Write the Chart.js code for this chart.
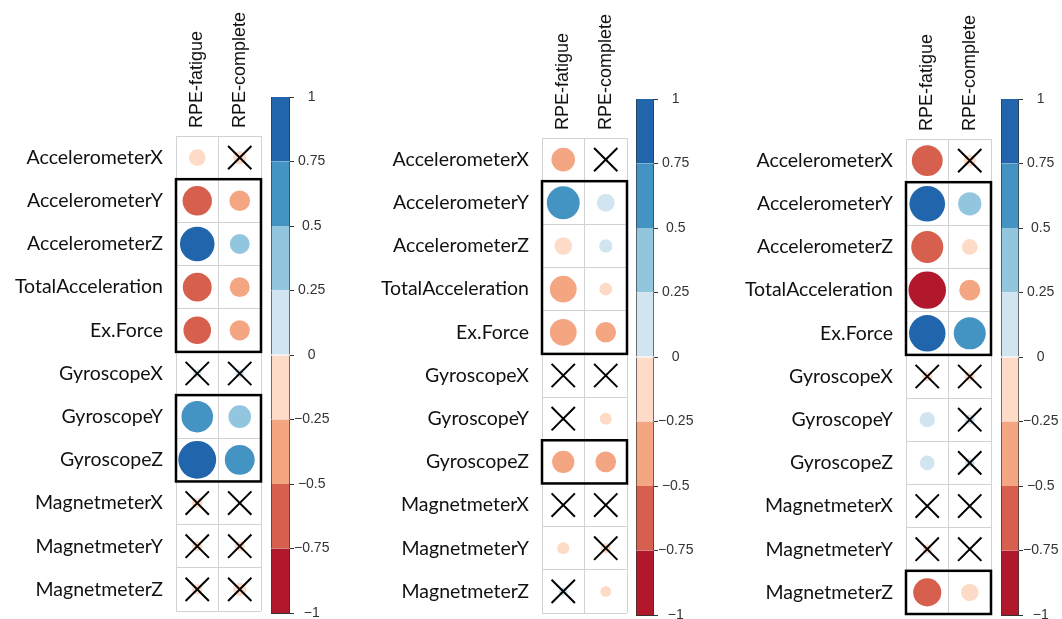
<!DOCTYPE html>
<html>
<head>
<meta charset="utf-8">
<script src="https://cdn.jsdelivr.net/npm/chart.js@4.4.1/dist/chart.umd.min.js"></script>
<style>
  html, body { margin: 0; padding: 0; background: #fff; overflow: hidden; }
  body { width: 1062px; height: 619px; position: relative; }
  canvas { position: absolute; top: 0; }
</style>
</head>
<body>
<canvas id="grid1"></canvas><canvas id="bar1"></canvas>
<canvas id="grid2"></canvas><canvas id="bar2"></canvas>
<canvas id="grid3"></canvas><canvas id="bar3"></canvas>
<script>
'use strict';

// ---- data ----
const rows = ['AccelerometerX', 'AccelerometerY', 'AccelerometerZ', 'TotalAcceleration', 'Ex.Force',
              'GyroscopeX', 'GyroscopeY', 'GyroscopeZ', 'MagnetmeterX', 'MagnetmeterY', 'MagnetmeterZ'];
const cols = ['RPE-fatigue', 'RPE-complete'];

const p1Fatigue  = [-0.19, -0.59, 0.82, -0.57, -0.52, 0.05, 0.68, 0.98, -0.08, -0.07, -0.07];
const p1Complete = [-0.12, -0.29, 0.27, -0.27, -0.28, 0.05, 0.35, 0.61, -0.01, -0.07, -0.12];
const p1InsigF   = [0, 0, 0, 0, 0, 1, 0, 0, 1, 1, 1];
const p1InsigC   = [1, 0, 0, 0, 0, 1, 0, 0, 1, 1, 1];
const p1Boxes    = [[1, 4], [6, 7]];

const p2Fatigue  = [-0.38, 0.74, -0.21, -0.49, -0.49, 0.01, -0.01, -0.34, 0.01, -0.1, 0.05];
const p2Complete = [-0.01, 0.22, 0.12, -0.11, -0.29, 0.01, -0.1, -0.29, -0.01, -0.07, -0.08];
const p2InsigF   = [0, 0, 0, 0, 0, 1, 1, 0, 1, 0, 1];
const p2InsigC   = [1, 0, 0, 0, 0, 1, 0, 0, 1, 1, 0];
const p2Boxes    = [[1, 4], [7, 7]];

const p3Fatigue  = [-0.65, 0.87, -0.7, -0.96, 0.91, -0.07, 0.16, 0.15, 0.01, -0.06, -0.54];
const p3Complete = [-0.1, 0.37, -0.17, -0.3, 0.7, -0.07, 0.07, 0.06, -0.01, 0.01, -0.21];
const p3InsigF   = [0, 0, 0, 0, 0, 1, 0, 0, 1, 1, 0];
const p3InsigC   = [1, 0, 0, 0, 0, 1, 1, 1, 1, 1, 0];
const p3Boxes    = [[1, 4], [10, 10]];

// colour legend: bin edges (bottom to top) and tick labels
const binEdges   = [-1, -0.75, -0.5, -0.25, 0, 0.25, 0.5, 0.75, 1];
const binColours = ['#B2182B', '#D6604D', '#F4A582', '#FDDBC7', '#D1E5F0', '#92C5DE', '#4393C3', '#2166AC'];
const barTicks   = [-1, -0.75, -0.5, -0.25, 0, 0.25, 0.5, 0.75, 1];

// ---- layout (pixels) ----
const panels = [
    { grid: 'grid1', bar: 'bar1', gl: 176, gr: 261, gt: 136, gb: 611, bl: 271, br: 290, bt: 97, bb: 613,
      f: p1Fatigue, c: p1Complete, iF: p1InsigF, iC: p1InsigC, boxes: p1Boxes },
    { grid: 'grid2', bar: 'bar2', gl: 542, gr: 627, gt: 138, gb: 613, bl: 636, br: 654, bt: 99, bb: 615,
      f: p2Fatigue, c: p2Complete, iF: p2InsigF, iC: p2InsigC, boxes: p2Boxes },
    { grid: 'grid3', bar: 'bar3', gl: 906, gr: 991, gt: 139, gb: 614, bl: 1001, br: 1019, bt: 99, bb: 615,
      f: p3Fatigue, c: p3Complete, iF: p3InsigF, iC: p3InsigC, boxes: p3Boxes },
];
const LABEL_W = 176;   // room for the row names
const PAD_R = 30;      // generous paddings so the layout padding wins
const CANVAS_H = 660;
const COL_FONT = 18;

const binColour = v => {
    for (let i = 0; i < binColours.length; i++) {
        if (v <= binEdges[i + 1]) return binColours[i];
    }
    return binColours[binColours.length - 1];
};

// black rectangles round groups of rows
const boxPlugin = {
    id: 'groupBoxes',
    afterDatasetsDraw(chart, args, opts) {
        const { ctx, scales: { x, y } } = chart;
        const hx = Math.abs(x.getPixelForValue(1) - x.getPixelForValue(0)) / 2;
        const hy = Math.abs(y.getPixelForValue(1) - y.getPixelForValue(0)) / 2;
        ctx.save();
        ctx.strokeStyle = '#000';
        ctx.lineWidth = 2.5;
        (opts.list || []).forEach(([r0, r1]) => {
            const left = x.getPixelForValue(0) - hx, right = x.getPixelForValue(1) + hx;
            const top = y.getPixelForValue(r0) - hy, bottom = y.getPixelForValue(r1) + hy;
            ctx.strokeRect(left, top, right - left, bottom - top);
        });
        ctx.restore();
    }
};

const circleRadius = ctx => {
    if (!ctx.raw) return 0;
    const s = ctx.chart.scales.x;
    const cell = Math.abs(s.getPixelForValue(1) - s.getPixelForValue(0));
    return 0.45 * Math.sqrt(Math.abs(ctx.raw.v)) * cell;
};

const makeGrid = p => {
    const cv = document.getElementById(p.grid);
    const gw = p.gr - p.gl;
    const w = LABEL_W + gw + PAD_R;
    cv.width = w; cv.height = CANVAS_H;
    cv.style.left = (p.gl - LABEL_W) + 'px';

    const circles = [], crosses = [];
    rows.forEach((r, i) => {
        circles.push({ x: cols[0], y: r, v: p.f[i] });
        circles.push({ x: cols[1], y: r, v: p.c[i] });
        if (p.iF[i]) crosses.push({ x: cols[0], y: r });
        if (p.iC[i]) crosses.push({ x: cols[1], y: r });
    });

    new Chart(cv, {
        type: 'scatter',
        data: {
            datasets: [
                {
                    // circles behind
                    order: 2,
                    data: circles,
                    pointRadius: circleRadius, pointHoverRadius: circleRadius,
                    pointBackgroundColor: ctx => ctx.raw ? binColour(ctx.raw.v) : '#fff',
                    pointBorderWidth: 0,
                },
                {
                    // crosses for insignificant cells, on top
                    order: 1,
                    data: crosses,
                    pointStyle: 'crossRot', pointRadius: 16.5, pointHoverRadius: 16.5,
                    pointBorderColor: '#000', pointBorderWidth: 2,
                }
            ]
        },
        options: {
            responsive: false, animation: false,
            events: [],
            layout: { padding: { left: 0, top: 0, right: PAD_R, bottom: CANVAS_H - p.gb } },
            plugins: { legend: { display: false }, tooltip: { enabled: false }, groupBoxes: { list: p.boxes } },
            scales: {
                x: {
                    type: 'category', labels: cols, position: 'top', offset: true,
                    grid: { offset: true, color: '#d2d2d2', lineWidth: 1, drawTicks: false },
                    border: { display: false },
                    ticks: { minRotation: 90, maxRotation: 90, padding: 8, color: '#111',
                             labelOffset: COL_FONT * 1.2,
                             font: { family: "'Liberation Sans', Arial, sans-serif", size: COL_FONT } },
                    afterFit: s => { s.height = p.gt; }
                },
                y: {
                    type: 'category', labels: rows, offset: true,
                    grid: { offset: true, color: '#d2d2d2', lineWidth: 1, drawTicks: false },
                    border: { display: false },
                    ticks: { padding: 13, color: '#111',
                             font: { family: "Lato, 'Open Sans', sans-serif", size: 19.5 } },
                    afterFit: s => { s.width = LABEL_W; }
                }
            }
        },
        plugins: [boxPlugin]
    });
};

const makeBar = p => {
    const cv = document.getElementById(p.bar);
    const bw = p.br - p.bl;
    const w = bw + 60, h = CANVAS_H;
    cv.width = w; cv.height = h;
    cv.style.left = p.bl + 'px';

    new Chart(cv, {
        type: 'bar',
        data: {
            labels: [''],
            datasets: binColours.map((c, i) => ({
                data: [[binEdges[i], binEdges[i + 1]]],
                backgroundColor: c,
                borderColor: '#333',
                borderWidth: { left: 1, right: 1, top: 0, bottom: 0 },
                borderSkipped: false,
                grouped: false,
                barPercentage: 1, categoryPercentage: 1,
            }))
        },
        options: {
            responsive: false, animation: false,
            events: [],
            layout: { padding: { left: 0, right: 0, top: p.bt, bottom: h - p.bb } },
            plugins: { legend: { display: false }, tooltip: { enabled: false } },
            scales: {
                x: { display: false },
                y: {
                    position: 'right', min: -1, max: 1,
                    afterBuildTicks: s => { s.ticks = barTicks.map(v => ({ value: v })); },
                    grid: {
                        drawOnChartArea: true, tickLength: 4, tickColor: '#333', lineWidth: 1,
                        color: ctx => (ctx.tick && Math.abs(ctx.tick.value) === 1) ? '#333' : 'rgba(0,0,0,0)'
                    },
                    border: { display: false },
                    ticks: {
                        padding: 0, crossAlign: 'center', color: '#333',
                        font: { family: "'Liberation Sans', Arial, sans-serif", size: 14 },
                        callback: v => String(v).replace('-', '\u2212')
                    },
                    afterFit: s => { s.width = w - bw; }
                }
            }
        }
    });
};

panels.forEach(p => { makeGrid(p); makeBar(p); });
</script>
</body>
</html>
